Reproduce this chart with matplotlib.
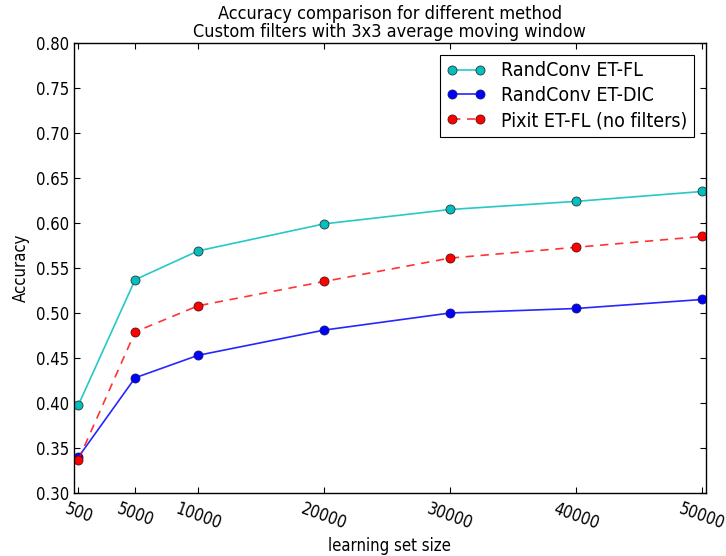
import matplotlib
matplotlib.use("Agg")
import matplotlib.pyplot as plt
from matplotlib import font_manager

sizes = [500, 5000, 10000, 20000, 30000, 40000, 50000]
tick_labels = ["500", "5000", "10000", "20000", "30000", "40000", "50000"]
randconv_fl = [0.398, 0.537, 0.569, 0.599, 0.615, 0.624, 0.635]
randconv_dic = [0.340, 0.428, 0.453, 0.481, 0.500, 0.505, 0.515]
pixit_fl = [0.337, 0.479, 0.508, 0.535, 0.561, 0.573, 0.585]

names = sorted({f.name for f in font_manager.fontManager.ttflist})
has_cond = 'DejaVu Sans Condensed' in names or any(
    'Condensed' in f.fname and 'DejaVuSans' in f.fname for f in font_manager.fontManager.ttflist)
if has_cond:
    plt.rcParams['font.family'] = ['DejaVu Sans']
    plt.rcParams['font.stretch'] = 'condensed'
    fs_tick, fs_lab, fs_title, fs_leg = 12, 12, 13, 14
else:
    plt.rcParams['font.family'] = ['DejaVu Sans']
    fs_tick, fs_lab, fs_title, fs_leg = 11, 11, 12, 13

fig = plt.figure(figsize=(7.26, 5.56), dpi=100)
ax = fig.add_axes([0.102, 0.1133, 0.870, 0.8094])

ax.plot(sizes, randconv_fl, '-o', color=(0, 0.75, 0.75, 0.85), mfc=(0, 0.75, 0.75),
        mec='#333333', mew=0.6, ms=6.5, lw=1.2, label='RandConv ET-FL')
ax.plot(sizes, randconv_dic, '-o', color=(0, 0, 1, 0.85), mfc=(0, 0, 1),
        mec='#1a1a66', mew=0.6, ms=6.5, lw=1.2, label='RandConv ET-DIC')
ax.plot(sizes, pixit_fl, '--o', color=(1, 0, 0, 0.8), mfc=(1, 0, 0),
        mec='#551111', mew=0.6, ms=6.5, lw=1.2, dashes=(5, 4), label='Pixit ET-FL (no filters)')

ax.set_xlim(150, 50300)
ax.set_ylim(0.30, 0.80)
ax.set_xticks(sizes)
ax.set_xticklabels(tick_labels, rotation=-20, ha='center', fontsize=fs_tick)
yt = [0.30, 0.35, 0.40, 0.45, 0.50, 0.55, 0.60, 0.65, 0.70, 0.75, 0.80]
ax.set_yticks(yt)
ax.set_yticklabels(["%.2f" % v for v in yt], fontsize=fs_tick)
ax.tick_params(direction='in', top=True, right=True, length=4, width=0.8)
ax.tick_params(axis='x', pad=5)
for s in ax.spines.values():
    s.set_linewidth(1.0)

ax.set_xlabel('learning set size', fontsize=fs_lab, labelpad=3)
ax.set_ylabel('Accuracy', fontsize=fs_lab)
ax.set_title('Accuracy comparison for different method\nCustom filters with 3x3 average moving window',
             fontsize=fs_title, linespacing=1.0, pad=4)

leg = ax.legend(loc='upper right', numpoints=2, fontsize=fs_leg, fancybox=False,
                framealpha=1, edgecolor='black', borderaxespad=0.6, handlelength=2.0,
                labelspacing=0.3, borderpad=0.35)
leg.get_frame().set_linewidth(0.8)

fig.savefig('out.png', dpi=100)
